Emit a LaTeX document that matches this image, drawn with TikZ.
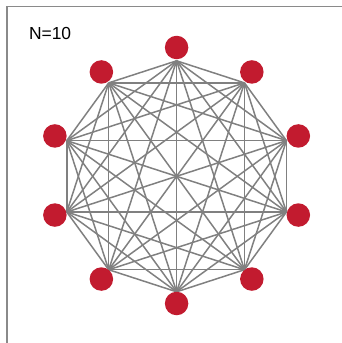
\documentclass[tikz,border=0pt]{standalone}
\usepackage{fontspec}
\setmainfont{Liberation Sans}
\definecolor{dotred}{HTML}{C21B2F}
\definecolor{edgegray}{HTML}{808080}
\definecolor{framegray}{HTML}{8A8A8A}
\begin{document}
\begin{tikzpicture}[x=1bp,y=-1bp,
  dot/.style={circle,fill=dotred,draw=none,minimum size=23.5bp,inner sep=0pt},
  edge/.style={draw=edgegray,line width=1.5bp},
  frame/.style={draw=framegray,line width=1.8bp}]
\useasboundingbox (0,0) rectangle (342,343);
\coordinate (fa) at (7,343);
\coordinate (fb) at (7,6.5);
\coordinate (fc) at (342,6.5);
\draw[frame] (fa) -- (fb) -- (fc);
\node[font=\fontsize{17.5}{20}\selectfont,anchor=base west] (lbl) at (25.5,39.5) {N=10};
\foreach \i in {0,...,9}{
  \pgfmathsetmacro{\ang}{90+36*\i}
  \coordinate (v\i) at ({176.6+115.5*cos(\ang)},{176.3-115.5*sin(\ang)});
}
\foreach \i in {0,...,9}{
  \foreach \j in {0,...,9}{
    \ifnum\i<\j \draw[edge] (v\i) -- (v\j); \fi
  }
}
\foreach \i in {0,...,9}{
  \pgfmathsetmacro{\ang}{90+36*\i}
  \node[dot] (n\i) at ({176.6+128*cos(\ang)},{175.5-128*sin(\ang)}) {};
}
\end{tikzpicture}
\end{document}
